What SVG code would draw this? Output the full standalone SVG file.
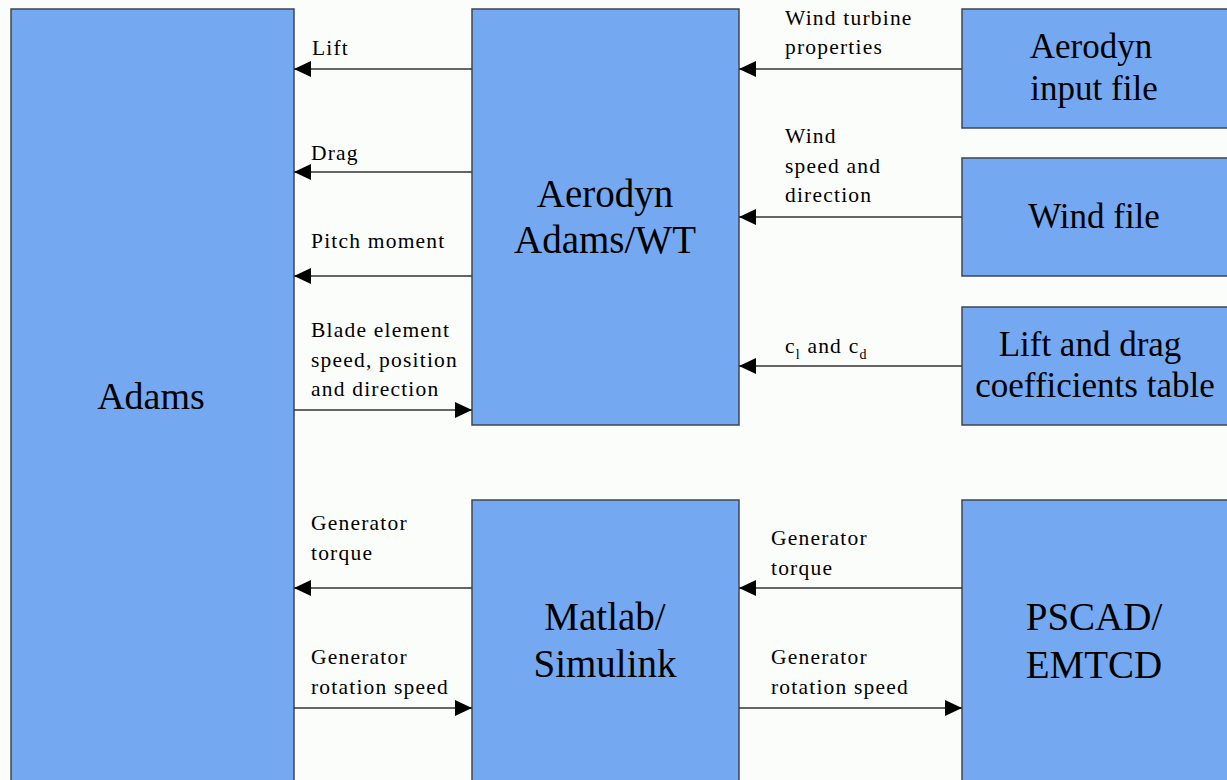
<svg xmlns="http://www.w3.org/2000/svg" width="1227" height="780" viewBox="0 0 1227 780">
<style>
.box{fill:#74a9f2;stroke:#3f4650;stroke-width:1.5}
.big{font-family:"Liberation Serif",serif;font-size:39px;fill:#000;text-anchor:middle}
.mid{font-family:"Liberation Serif",serif;font-size:35px;fill:#000;text-anchor:middle}
.lbl{font-family:"Liberation Serif",serif;font-size:21.5px;letter-spacing:1.2px;fill:#000}
.ln{stroke:#333;stroke-width:1.5;fill:none;marker-end:url(#ah)}
</style>
<defs>
<marker id="ah" markerUnits="userSpaceOnUse" markerWidth="18" markerHeight="18" refX="17" refY="8" orient="auto">
<path d="M0,0 L17,8 L0,16 Z" fill="#000"/>
</marker>
</defs>
<rect width="1227" height="780" fill="#fbfdfb"/>
<g id="adams"><rect class="box" x="11" y="9" width="283" height="780"/><text class="big" x="151" y="409" style="font-size:38px">Adams</text></g>
<g id="aerodyn"><rect class="box" x="472" y="9" width="267" height="416"/><text class="big" x="605" y="207">Aerodyn</text><text class="big" x="605" y="253">Adams/WT</text></g>
<g id="matlab"><rect class="box" x="472" y="500" width="267" height="290"/><text class="big" x="605" y="630">Matlab/</text><text class="big" x="605" y="677">Simulink</text></g>
<g id="aerodyn-input"><rect class="box" x="962" y="9" width="275" height="119"/><text class="mid" x="1091" y="58">Aerodyn</text><text class="mid" x="1094" y="100">input file</text></g>
<g id="wind-file"><rect class="box" x="962" y="158" width="275" height="118"/><text class="mid" x="1094" y="228">Wind file</text></g>
<g id="lift-drag"><rect class="box" x="962" y="307" width="275" height="118"/><text class="mid" x="1090" y="356">Lift and drag</text><text class="mid" x="1095" y="397">coefficients table</text></g>
<g id="pscad"><rect class="box" x="962" y="500" width="275" height="290"/><text class="big" x="1094" y="630">PSCAD/</text><text class="big" x="1094" y="678">EMTCD</text></g>
<g id="connectors">
<line class="ln" x1="472" y1="69" x2="294" y2="69"/>
<line class="ln" x1="472" y1="172" x2="294" y2="172"/>
<line class="ln" x1="472" y1="276" x2="294" y2="276"/>
<line class="ln" x1="294" y1="410" x2="472" y2="410"/>
<line class="ln" x1="472" y1="588" x2="294" y2="588"/>
<line class="ln" x1="294" y1="708" x2="472" y2="708"/>
<line class="ln" x1="962" y1="69" x2="739" y2="69"/>
<line class="ln" x1="962" y1="217" x2="739" y2="217"/>
<line class="ln" x1="962" y1="366" x2="739" y2="366"/>
<line class="ln" x1="962" y1="588" x2="739" y2="588"/>
<line class="ln" x1="739" y1="708" x2="962" y2="708"/>
<text class="lbl" x="312" y="55">Lift</text>
<text class="lbl" x="311" y="160">Drag</text>
<text class="lbl" x="311" y="248">Pitch moment</text>
<text class="lbl" x="311" y="337">Blade element</text>
<text class="lbl" x="311" y="367">speed, position</text>
<text class="lbl" x="311" y="396">and direction</text>
<text class="lbl" x="311" y="530">Generator</text>
<text class="lbl" x="311" y="560">torque</text>
<text class="lbl" x="311" y="664">Generator</text>
<text class="lbl" x="311" y="694">rotation speed</text>
<text class="lbl" x="785" y="25">Wind turbine</text>
<text class="lbl" x="785" y="54">properties</text>
<text class="lbl" x="785" y="143">Wind</text>
<text class="lbl" x="785" y="173">speed and</text>
<text class="lbl" x="785" y="202">direction</text>
<text class="lbl" x="785" y="353">c<tspan font-size="14" dy="6">l</tspan><tspan dy="-6"> and c</tspan><tspan font-size="14" dy="6">d</tspan></text>
<text class="lbl" x="771" y="545">Generator</text>
<text class="lbl" x="771" y="575">torque</text>
<text class="lbl" x="771" y="664">Generator</text>
<text class="lbl" x="771" y="694">rotation speed</text>
</g>
</svg>
